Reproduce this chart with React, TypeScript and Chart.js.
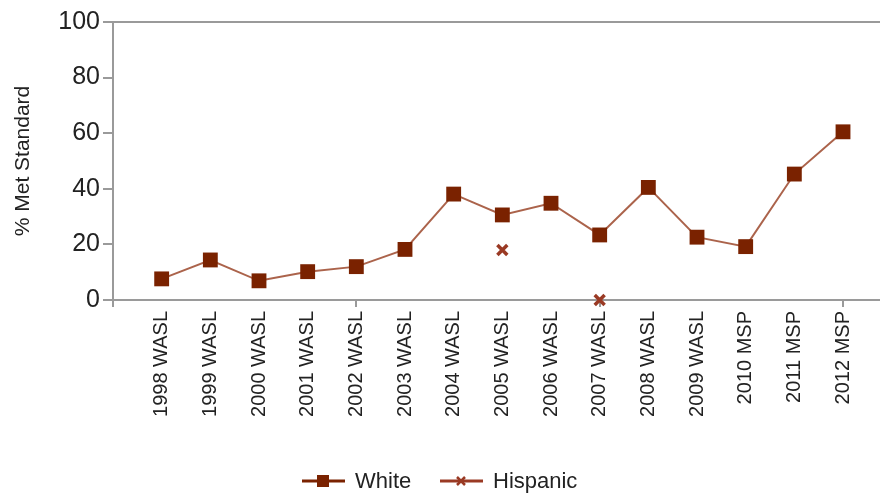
import React, { useEffect, useRef } from "react";
import { Chart, registerables } from "chart.js";

Chart.register(...registerables);

const categories = [
  "1998 WASL", "1999 WASL", "2000 WASL", "2001 WASL", "2002 WASL",
  "2003 WASL", "2004 WASL", "2005 WASL", "2006 WASL", "2007 WASL",
  "2008 WASL", "2009 WASL", "2010 MSP", "2011 MSP", "2012 MSP",
];
const whiteValues = [7.6, 14.4, 6.9, 10.2, 12.0, 18.2, 38.1, 30.6, 34.8, 23.4, 40.5, 22.6, 19.2, 45.3, 60.5];
const hispanicValues: (number | null)[] = [null, null, null, null, null, null, null, 18.0, null, 0, null, null, null, null, null];
const yTicks = [0, 20, 40, 60, 80, 100];
const seriesNames = ["White", "Hispanic"];
const xTickMarks = [-1, 4, 9, 14];

const MARKER = "#7a2200";
const LINE = "rgba(150,60,30,0.8)";
const HISP = "#9a3a24";
const AXIS = "#9a9a9a";
const TEXT = "#222222";
const FONT = "'Liberation Sans', Arial, sans-serif";

const legendPlugin = {
  id: "customLegend",
  afterDraw(chart: any) {
    const ctx = chart.ctx as CanvasRenderingContext2D;
    const y = 481;
    ctx.save();
    // White
    ctx.strokeStyle = MARKER;
    ctx.lineWidth = 3;
    ctx.beginPath();
    ctx.moveTo(302, y);
    ctx.lineTo(345, y);
    ctx.stroke();
    ctx.fillStyle = MARKER;
    ctx.fillRect(317, y - 6, 12, 12);
    // Hispanic
    ctx.strokeStyle = HISP;
    ctx.lineWidth = 3;
    ctx.beginPath();
    ctx.moveTo(440, y);
    ctx.lineTo(483, y);
    ctx.stroke();
    ctx.lineWidth = 2.5;
    ctx.beginPath();
    ctx.moveTo(457, y - 4);
    ctx.lineTo(465, y + 4);
    ctx.moveTo(465, y - 4);
    ctx.lineTo(457, y + 4);
    ctx.stroke();
    ctx.fillStyle = TEXT;
    ctx.font = `22px ${FONT}`;
    ctx.textBaseline = "middle";
    ctx.textAlign = "left";
    ctx.fillText(seriesNames[0], 355, y + 1);
    ctx.fillText(seriesNames[1], 493, y + 1);
    ctx.restore();
  },
};

export default function App() {
  const ref = useRef<HTMLCanvasElement | null>(null);
  useEffect(() => {
    if (!ref.current) return;
    const chart = new Chart(ref.current, {
      type: "line",
      data: {
        datasets: [
          {
            label: seriesNames[0],
            data: whiteValues.map((v, i) => ({ x: i, y: v })),
            borderColor: LINE,
            borderWidth: 2,
            backgroundColor: MARKER,
            pointStyle: "rect",
            pointRadius: 10.5,
            pointBorderWidth: 0,
            pointBackgroundColor: MARKER,
            pointBorderColor: MARKER,
            tension: 0,
          },
          {
            label: seriesNames[1],
            data: hispanicValues.map((v, i) => ({ x: i, y: v })),
            showLine: false,
            clip: false,
            borderColor: HISP,
            backgroundColor: HISP,
            pointStyle: "crossRot",
            pointRadius: 7,
            pointBorderWidth: 3.5,
            pointBorderColor: HISP,
          },
        ],
      },
      options: {
        animation: false,
        responsive: false,
        devicePixelRatio: 1,
        layout: { autoPadding: false, padding: { top: 22, left: 0, right: 0, bottom: 0 } },
        plugins: { legend: { display: false }, tooltip: { enabled: false } },
        scales: {
          x: {
            type: "linear",
            min: -1,
            max: 14.76,
            afterFit: (s: any) => { s.height = 195; s.paddingRight = 0; s.paddingLeft = 0; },
            ticks: {
              stepSize: 1,
              autoSkip: false,
              includeBounds: false,
              minRotation: 90,
              maxRotation: 90,
              padding: 4,
              color: TEXT,
              font: { family: FONT, size: 20 },
              callback: (v: any) => {
                const n = Number(v);
                return Number.isInteger(n) && n >= 0 && n < categories.length ? categories[n] : "";
              },
            },
            grid: {
              drawOnChartArea: false,
              tickLength: 7,
              lineWidth: 2,
              tickColor: (c: any) => (c.tick && xTickMarks.includes(c.tick.value) ? AXIS : "rgba(0,0,0,0)"),
            },
            border: { color: AXIS, width: 2 },
          },
          y: {
            type: "linear",
            min: 0,
            max: 100,
            afterFit: (s: any) => { s.width = 113; },
            afterBuildTicks: (s: any) => { s.ticks = yTicks.map((v) => ({ value: v })); },
            ticks: {
              padding: 3,
              color: TEXT,
              font: { family: FONT, size: 25 },
            },
            grid: {
              tickLength: 10,
              lineWidth: 2,
              tickColor: AXIS,
              color: (c: any) => (c.tick && c.tick.value === 100 ? AXIS : "rgba(0,0,0,0)"),
            },
            border: { color: AXIS, width: 2 },
            title: {
              display: true,
              text: "% Met Standard",
              color: TEXT,
              font: { family: FONT, size: 21 },
              padding: { top: 11, bottom: 0 },
            },
          },
        },
      },
      plugins: [legendPlugin],
    });
    return () => chart.destroy();
  }, []);
  return (
    <div style={{ position: "fixed", left: 0, top: 0, width: 880, height: 495, background: "#fff" }}>
      <canvas ref={ref} width={880} height={495} />
    </div>
  );
}
